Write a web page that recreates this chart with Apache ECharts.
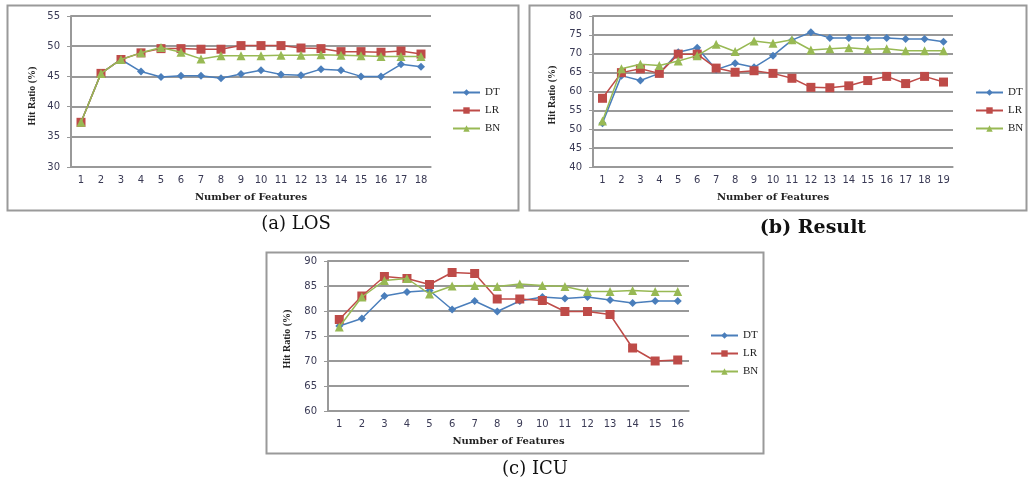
<!DOCTYPE html>
<html><head><meta charset="utf-8">
<script src="https://cdn.jsdelivr.net/npm/echarts@6/dist/echarts.min.js"></script>
<style>html,body{margin:0;padding:0;background:#fff}#c{width:1031px;height:483px}</style>
</head><body><div id="c"></div>
<script>
// ---- Data ----
const losCats = ['1','2','3','4','5','6','7','8','9','10','11','12','13','14','15','16','17','18'];
const losDT = [37.4,45.5,47.8,45.8,44.9,45.1,45.1,44.7,45.4,46.0,45.3,45.2,46.2,46.0,45.0,45.0,47.0,46.6];
const losLR = [37.4,45.5,47.8,48.9,49.6,49.6,49.5,49.5,50.1,50.1,50.1,49.7,49.6,49.1,49.1,49.0,49.2,48.7];
const losBN = [37.4,45.5,47.8,48.9,49.8,49.0,47.9,48.4,48.4,48.4,48.5,48.5,48.6,48.5,48.4,48.3,48.3,48.3];

const resCats = ['1','2','3','4','5','6','7','8','9','10','11','12','13','14','15','16','17','18','19'];
const resDT = [51.6,64.2,62.9,64.8,70.4,71.6,65.8,67.5,66.4,69.5,73.6,75.7,74.2,74.2,74.2,74.2,73.9,73.9,73.2];
const resLR = [58.2,65.0,66.0,64.8,69.9,69.9,66.2,65.1,65.5,64.8,63.5,61.1,61.0,61.5,62.9,64.0,62.1,64.0,62.5];
const resBN = [52.2,66.0,67.2,66.9,68.1,69.5,72.5,70.6,73.4,72.8,73.7,71.0,71.3,71.6,71.2,71.3,70.8,70.8,70.8];

const icuCats = ['1','2','3','4','5','6','7','8','9','10','11','12','13','14','15','16'];
const icuDT = [77.0,78.5,83.0,83.8,84.1,80.3,82.0,79.9,82.0,82.8,82.5,82.8,82.2,81.6,82.0,82.0];
const icuLR = [78.3,83.0,86.9,86.5,85.3,87.7,87.5,82.4,82.4,82.1,79.9,79.9,79.3,72.6,70.0,70.2];
const icuBN = [76.8,82.8,86.1,86.5,83.4,85.0,85.1,84.9,85.4,85.1,84.9,83.9,83.9,84.1,83.9,83.9];

const seriesNames = ['DT','LR','BN'];
const yTicksLOS = {min:30,max:55,interval:5};
const yTicksRES = {min:40,max:80,interval:5};
const yTicksICU = {min:60,max:90,interval:5};
const xName = 'Number of Features';
const yName = 'Hit Ratio (%)';
const captions = ['(a) LOS','(b) Result','(c) ICU'];

// ---- Styles ----
const colors = ['#4a7ebb','#be4b48','#98b954'];
const symbols = ['diamond','rect','triangle'];
const symSizes = [8,9,9];
const serif = '"Liberation Serif", "DejaVu Serif", serif';
const wideSerif = '"DejaVu Serif", serif';
const sans = '"DejaVu Sans", sans-serif';

const grids = [
  {left:71, top:16, width:360, height:151},
  {left:593, top:16, width:360, height:151},
  {left:328, top:261, width:361, height:150}
];
const cats = [losCats, resCats, icuCats];
const yT = [yTicksLOS, yTicksRES, yTicksICU];
const data = [[losDT,losLR,losBN],[resDT,resLR,resBN],[icuDT,icuLR,icuBN]];
const yNamePos = [{x:32,y:96},{x:552,y:95},{x:287,y:339}];
const legendPos = [{left:452, top:87},{left:975, top:87},{left:710, top:330}];

const xAxis = [], yAxis = [], series = [], legend = [];
for (let g=0; g<3; g++){
  xAxis.push({
    type:'category', gridIndex:g, data:cats[g], boundaryGap:true,
    name:xName, nameLocation:'middle', nameGap:25,
    nameTextStyle:{fontFamily:wideSerif, fontWeight:'bold', fontSize:10, color:'#222'},
    axisLine:{show:true, lineStyle:{color:'#999', width:1.5}},
    axisTick:{show:false},
    axisLabel:{fontFamily:sans, fontSize:10, color:'#3a3a55', margin:8}
  });
  yAxis.push({
    type:'value', gridIndex:g, min:yT[g].min, max:yT[g].max, interval:yT[g].interval,
    axisLine:{show:true, lineStyle:{color:'#999', width:2}},
    axisTick:{show:true, length:4, lineStyle:{color:'#999'}},
    axisLabel:{fontFamily:sans, fontSize:10, color:'#3a3a55', margin:11},
    splitLine:{show:true, lineStyle:{color:'#999', width:2}}
  });
  for (let s=0; s<3; s++){
    series.push({
      type:'line', name:seriesNames[s], xAxisIndex:g, yAxisIndex:g,
      data:data[g][s], symbol:symbols[s], symbolSize:symSizes[s],
      itemStyle:{color:colors[s]}, lineStyle:{color:colors[s], width:1.5},
      animation:false, z:2+s
    });
  }
  legend.push({
    orient:'vertical', left:legendPos[g].left, top:legendPos[g].top, padding:0,
    data:seriesNames, itemWidth:27, itemHeight:8, itemGap:7,
    textStyle:{fontFamily:serif, fontSize:11, color:'#222'}, selectedMode:false
  });
}

const frames = [
  {x:7.5,y:5.5,w:511,h:205},
  {x:529.5,y:5.5,w:497,h:205},
  {x:266.5,y:252.5,w:497,h:201}
];
const capPos = [{x:296,y:224},{x:813,y:228},{x:535,y:469}];
const graphic = [];
frames.forEach(f=>graphic.push({type:'rect', shape:{x:f.x,y:f.y,width:f.w,height:f.h},
  style:{fill:null, stroke:'#9a9a9a', lineWidth:2}, silent:true, z:-1}));
captions.forEach((t,i)=>graphic.push({type:'text', x:capPos[i].x, y:capPos[i].y,
  style:{text:t, fontFamily:wideSerif, fontSize: i===1?19:18, fontWeight: i===1?'bold':'normal', fill:'#111', align:'center', verticalAlign:'middle'}}));
yNamePos.forEach(p=>graphic.push({type:'text', x:p.x, y:p.y, rotation:Math.PI/2,
  style:{text:yName, fontFamily:serif, fontWeight:'bold', fontSize:10, fill:'#222', align:'center', verticalAlign:'middle'}}));

const chart = echarts.init(document.getElementById('c'), null, {renderer:'canvas'});
chart.setOption({animation:false, grid:grids, xAxis, yAxis, series, legend, graphic});
</script></body></html>
